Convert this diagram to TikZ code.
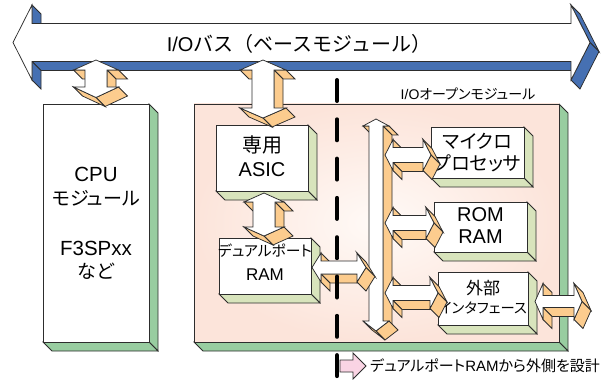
\documentclass[tikz,border=0pt]{standalone}
\usepackage{fontspec}
\setmainfont{Liberation Sans}
\newfontfamily\jp[RawFeature={+palt}]{Noto Sans CJK JP}
\newfontfamily\jpfull{Noto Sans CJK JP}
\definecolor{busblue}{RGB}{70,112,178}
\definecolor{cpugreen}{RGB}{152,205,160}
\definecolor{boxgreen}{RGB}{216,228,188}
\definecolor{arrorange}{RGB}{252,204,142}
\definecolor{pinkout}{RGB}{252,228,218}
\definecolor{pinkin}{RGB}{255,250,247}
\definecolor{legpink}{RGB}{250,212,228}
\definecolor{edge}{RGB}{45,45,45}
% extruded polygon: #1 side style, #2 front style, #3/#4 first point, #5 remaining points (clockwise)
\newcommand\xtr[5]{%
  \foreach \x/\y [remember=\x as \px (initially #3), remember=\y as \py (initially #4)] in {#5,#3/#4}{%
    \pgfmathsetmacro\vis{(\y)-(\py)-(\x)+(\px)}%
    \ifdim\vis pt>0.01pt
      \path[#1] (\px,\py) -- (\x,\y) -- (\x+9,\y+9) -- (\px+9,\py+9) -- cycle;
    \fi
  }%
  \path[#2] (#3,#4) \foreach \x/\y in {#5}{ -- (\x,\y)} -- cycle;
}
% horizontal double arrow: side, L, R, c, h, b, H
\newcommand\hdarr[7]{%
  \xtr{#1}{fw}{#3-#5}{#4+#6}{#2+#5/#4+#6, #2+#5/#4+#7, #2/#4, #2+#5/#4-#7, #2+#5/#4-#6, #3-#5/#4-#6, #3-#5/#4-#7, #3/#4, #3-#5/#4+#7}}
% vertical double arrow: side, cx, ttip, tbase, bbase, btip, b, H
\newcommand\vdarr[8]{%
  \xtr{#1}{fw}{#2}{#3}{#2+#8/#4, #2+#7/#4, #2+#7/#5, #2+#8/#5, #2/#6, #2-#8/#5, #2-#7/#5, #2-#7/#4, #2-#8/#4}}
% 3d box: side, front, x1, y1, x2, y2
\newcommand\boxthree[6]{\xtr{#1}{#2}{#3}{#4}{#5/#4, #5/#6, #3/#6}}
\begin{document}
\begin{tikzpicture}[x=1pt,y=-1pt]
\tikzset{
  ln/.style={draw=edge, line width=0.75pt},
  sblue/.style={ln, fill=busblue},
  sor/.style={ln, fill=arrorange},
  sgreen/.style={ln, fill=cpugreen},
  slight/.style={ln, fill=boxgreen},
  fw/.style={ln, fill=white},
  fpink/.style={ln, inner color=pinkin, outer color=pinkout},
  txt/.style={inner sep=0pt, text=black},
  dashln/.style={line width=4pt, line cap=round, dash pattern=on 21pt off 18.3pt},
}
\useasboundingbox (0,0) rectangle (609,382);
% I/O bus
\hdarr{sblue}{13}{590}{42.5}{19}{19}{37.5}
\node[txt, font=\fontsize{20}{20}\selectfont] (buslbl) at (299,44) {I/O{\jpfull バス（ベースモジュール）}};
% CPU module
\boxthree{sgreen}{fw}{43}{104}{149}{342}
\node[txt, font=\fontsize{20.5}{20}\selectfont] (cpu1) at (96,174) {CPU};
\node[txt, font=\fontsize{19}{19}\selectfont\jp] (cpu2) at (96,198) {モジュール};
\node[txt, font=\fontsize{20.5}{20}\selectfont] (cpu3) at (96,248) {F3SPxx};
\node[txt, font=\fontsize{19}{19}\selectfont\jp] (cpu4) at (96,271) {など};
% I/O open module
\boxthree{sgreen}{fpink}{194}{104}{559}{342}
\node[txt, font=\fontsize{14}{14}\selectfont] (iolbl) at (468,94) {I/O{\jp オープンモジュール}};
% inner boxes
\boxthree{slight}{fw}{216}{125}{308}{191}
\node[txt, font=\fontsize{20}{20}\selectfont\jp] (asic1) at (262,145) {専用};
\node[txt, font=\fontsize{20}{20}\selectfont] (asic2) at (262,170) {ASIC};
\boxthree{slight}{fw}{219}{238}{311}{294}
\node[txt, font=\fontsize{14.8}{15}\selectfont\jp] (dp1) at (265,251) {デュアルポート};
\node[txt, font=\fontsize{17}{17}\selectfont] (dp2) at (265,275) {RAM};
\boxthree{slight}{fw}{431}{127}{524}{178}
\node[txt, font=\fontsize{19}{19}\selectfont\jp] (mp1) at (477.5,141) {マイクロ};
\node[txt, font=\fontsize{19}{19}\selectfont\jp] (mp2) at (477.5,163) {プロセッサ};
\boxthree{slight}{fw}{434}{202}{527}{252}
\node[txt, font=\fontsize{20}{20}\selectfont] (rom1) at (480.5,215) {ROM};
\node[txt, font=\fontsize{20}{20}\selectfont] (rom2) at (480.5,237) {RAM};
\boxthree{slight}{fw}{438}{272}{528}{325}
\node[txt, font=\fontsize{17}{17}\selectfont\jp] (ext1) at (483,288) {外部};
\node[txt, font=\fontsize{14.3}{15}\selectfont\jp] (ext2) at (483,308) {インタフェース};
% internal bus and branches
\vdarr{sor}{376}{119}{126}{321}{331}{7}{13}
\hdarr{sor}{385}{431}{155}{8}{7.5}{15.5}
\hdarr{sor}{385}{434}{223}{8}{7.5}{15.5}
\hdarr{sor}{385}{438}{293}{8}{7.5}{15.5}
\hdarr{sor}{312}{366}{267.5}{9}{6.5}{14.5}
\hdarr{sor}{535}{582}{301.5}{8}{6}{18}
\vdarr{sor}{264}{193}{202}{227}{236}{11}{20}
% bus connections
\vdarr{sor}{96}{60}{70}{87}{97.5}{11}{22.5}
\vdarr{sor}{263}{60}{70}{108}{118}{11}{23}
% boundary line
\coordinate (dtop) at (337,80);
\coordinate (dbot) at (337,378);
\draw[dashln] (dtop) -- (dbot);
% legend
\filldraw[ln, fill=legpink] (340,360) -- (353,360) -- (353,353) -- (366,366) -- (353,379) -- (353,372) -- (340,372) -- cycle;
\node[txt, anchor=west, font=\fontsize{15}{15}\selectfont\jp] (leg) at (370,366) {デュアルポート{\rmfamily RAM}から外側を設計};
\end{tikzpicture}
\end{document}
